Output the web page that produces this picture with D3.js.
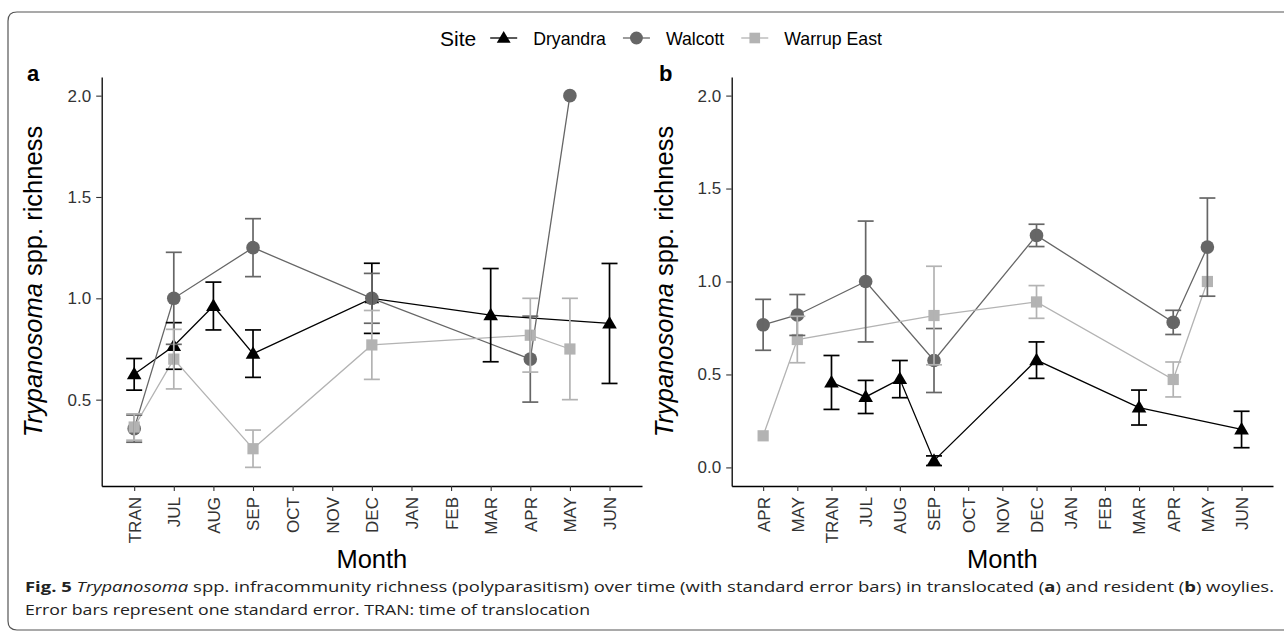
<!DOCTYPE html>
<html>
<head>
<meta charset="utf-8">
<script src="https://cdn.jsdelivr.net/npm/d3@7"></script>
<style>
  body { margin: 0; background: #fff; }
  svg { display: block; font-family: "Liberation Sans", Arial, Helvetica, sans-serif; }
</style>
</head>
<body>
<svg id="chart" width="1284" height="634"></svg>
<script>
// x categories of the two panels
const monthsA = ["TRAN", "JUL", "AUG", "SEP", "OCT", "NOV", "DEC", "JAN", "FEB", "MAR", "APR", "MAY", "JUN"];
const monthsB = ["APR", "MAY", "TRAN", "JUL", "AUG", "SEP", "OCT", "NOV", "DEC", "JAN", "FEB", "MAR", "APR", "MAY", "JUN"];

const sites = ["Dryandra", "Walcott", "Warrup East"];

// panel a (translocated): positions are indexes into monthsA
const aDryandraIdx = [0, 1, 2, 3, 6, 9, 12];
const aDryandraMean = [0.625, 0.765, 0.962, 0.727, 1.0, 0.917, 0.876];
const aDryandraSE = [0.078, 0.115, 0.118, 0.117, 0.173, 0.23, 0.296];

const aWalcottIdx = [0, 1, 3, 6, 10, 11];
const aWalcottMean = [0.357, 1.0, 1.25, 1.0, 0.7, 2.0];
const aWalcottSE = [0.067, 0.227, 0.143, 0.123, 0.212, null];

const aWarrupIdx = [0, 1, 3, 6, 10, 11];
const aWarrupMean = [0.365, 0.7, 0.258, 0.77, 0.818, 0.75];
const aWarrupSE = [0.065, 0.147, 0.092, 0.17, 0.182, 0.25];

// panel b (resident): positions are indexes into monthsB
const bDryandraIdx = [2, 3, 4, 5, 8, 11, 14];
const bDryandraMean = [0.457, 0.379, 0.475, 0.036, 0.577, 0.322, 0.204];
const bDryandraSE = [0.145, 0.089, 0.1, 0.026, 0.098, 0.094, 0.098];

const bWalcottIdx = [0, 1, 3, 5, 8, 12, 13];
const bWalcottMean = [0.767, 0.82, 1.0, 0.575, 1.248, 0.78, 1.185];
const bWalcottSE = [0.137, 0.11, 0.325, 0.172, 0.06, 0.065, 0.264];

const bWarrupIdx = [0, 1, 5, 8, 12, 13];
const bWarrupMean = [0.17, 0.688, 0.817, 0.89, 0.473, 1.0];
const bWarrupSE = [null, 0.125, 0.265, 0.088, 0.094, null];

const yTicksA = [0.5, 1.0, 1.5, 2.0];
const yTicksB = [0.0, 0.5, 1.0, 1.5, 2.0];

const colors = { "Dryandra": "#000000", "Walcott": "#666666", "Warrup East": "#b3b3b3" };

function series(site, idx, mean, se) {
  return { site: site, points: idx.map((d, i) => ({ i: d, m: mean[i], se: se[i] })) };
}

const panels = [
  {
    tag: "a", months: monthsA, left: 101.7, right: 642, pad: 0.82,
    yDomain: [0.074, 2.092], yTicks: yTicksA, tagX: 27, labelX: 42,
    series: [
      series("Dryandra", aDryandraIdx, aDryandraMean, aDryandraSE),
      series("Walcott", aWalcottIdx, aWalcottMean, aWalcottSE),
      series("Warrup East", aWarrupIdx, aWarrupMean, aWarrupSE)
    ]
  },
  {
    tag: "b", months: monthsB, left: 731.7, right: 1273, pad: 0.92,
    yDomain: [-0.1, 2.1], yTicks: yTicksB, tagX: 659, labelX: 673,
    series: [
      series("Dryandra", bDryandraIdx, bDryandraMean, bDryandraSE),
      series("Walcott", bWalcottIdx, bWalcottMean, bWalcottSE),
      series("Warrup East", bWarrupIdx, bWarrupMean, bWarrupSE)
    ]
  }
];

const plotTop = 77, plotBottom = 486;
const svg = d3.select("#chart");

// frame round the figure, open on the right
svg.append("path")
  .attr("d", "M1290,12 H17 Q8,12 8,21 V621 Q8,630 17,630 H1290")
  .attr("fill", "none")
  .attr("stroke", "#555")
  .attr("stroke-width", 1.2);

function drawMarker(g, site, cx, cy, scale) {
  const s = scale || 1;
  const c = colors[site];
  if (site === "Dryandra") {
    g.append("path")
      .attr("d", `M${cx},${cy - 7.5 * s} L${cx + 7.3 * s},${cy + 5 * s} L${cx - 7.3 * s},${cy + 5 * s} Z`)
      .attr("fill", c);
  } else if (site === "Walcott") {
    g.append("circle").attr("cx", cx).attr("cy", cy).attr("r", 6.8 * s).attr("fill", c);
  } else {
    g.append("rect")
      .attr("x", cx - 5.6 * s).attr("y", cy - 5.6 * s)
      .attr("width", 11.2 * s).attr("height", 11.2 * s)
      .attr("fill", c);
  }
}

panels.forEach(p => {
  const x = d3.scalePoint()
    .domain(d3.range(p.months.length))
    .range([p.left, p.right])
    .padding(p.pad);
  const y = d3.scaleLinear().domain(p.yDomain).range([plotBottom, plotTop]);

  const g = svg.append("g");

  // x axis
  const xa = g.append("g")
    .attr("transform", `translate(0,${plotBottom})`)
    .call(d3.axisBottom(x).tickFormat(i => p.months[i]).tickSize(5).tickSizeOuter(0));
  xa.selectAll("text")
    .attr("transform", "rotate(-90)")
    .attr("text-anchor", "end")
    .attr("x", -11)
    .attr("y", 0)
    .attr("dy", "0.35em")
    .attr("font-size", 17)
    .attr("fill", "#333");

  // y axis
  const ya = g.append("g")
    .attr("transform", `translate(${p.left},0)`)
    .call(d3.axisLeft(y).tickValues(p.yTicks).tickFormat(d3.format(".1f")).tickSize(5.5).tickPadding(5).tickSizeOuter(0));
  ya.selectAll("text").attr("font-size", 17).attr("fill", "#333");

  [xa, ya].forEach(a => {
    a.select(".domain").attr("stroke", "#000").attr("stroke-width", 1.3);
    a.selectAll(".tick line").attr("stroke", "#333").attr("stroke-width", 1.1);
  });

  // connecting lines
  const line = d3.line().x(d => x(d.i)).y(d => y(d.m));
  p.series.forEach(s => {
    g.append("path")
      .datum(s.points)
      .attr("d", line)
      .attr("fill", "none")
      .attr("stroke", colors[s.site])
      .attr("stroke-width", 1.3);
  });

  // points
  p.series.forEach(s => {
    s.points.forEach(d => drawMarker(g, s.site, x(d.i), y(d.m)));
  });

  // error bars
  p.series.forEach(s => {
    const eb = g.append("g").attr("stroke", colors[s.site]).attr("stroke-width", 1.7);
    s.points.filter(d => d.se != null).forEach(d => {
      const cx = x(d.i), y0 = y(d.m - d.se), y1 = y(d.m + d.se);
      eb.append("line").attr("x1", cx).attr("x2", cx).attr("y1", y0).attr("y2", y1);
      eb.append("line").attr("x1", cx - 8).attr("x2", cx + 8).attr("y1", y0).attr("y2", y0);
      eb.append("line").attr("x1", cx - 8).attr("x2", cx + 8).attr("y1", y1).attr("y2", y1);
    });
  });

  // axis titles
  const yl = g.append("text")
    .attr("transform", `translate(${p.labelX},${(plotTop + plotBottom) / 2}) rotate(-90)`)
    .attr("text-anchor", "middle")
    .attr("font-size", 25.5)
    .attr("fill", "#000");
  yl.append("tspan").attr("font-style", "italic").text("Trypanosoma");
  yl.append("tspan").text(" spp. richness");

  g.append("text")
    .attr("x", (p.left + p.right) / 2)
    .attr("y", 568)
    .attr("text-anchor", "middle")
    .attr("font-size", 25.5)
    .text("Month");

  g.append("text")
    .attr("x", p.tagX)
    .attr("y", 81)
    .attr("font-size", 22)
    .attr("font-weight", "bold")
    .text(p.tag);
});

// legend
const lg = svg.append("g");
let lx = 440;
const ly = 38;
const title = lg.append("text").attr("x", lx).attr("y", ly + 7.5).attr("font-size", 21).text("Site");
lx += title.node().getComputedTextLength() + 14;
sites.forEach(site => {
  lg.append("line")
    .attr("x1", lx).attr("x2", lx + 27).attr("y1", ly).attr("y2", ly)
    .attr("stroke", colors[site]).attr("stroke-width", 1.3);
  drawMarker(lg, site, lx + 13.5, ly, 0.95);
  lx += 27 + 16;
  const t = lg.append("text").attr("x", lx).attr("y", ly + 6.5).attr("font-size", 17.7).text(site);
  lx += t.node().getComputedTextLength() + 17;
});

// caption
const capFont = '"Liberation Sans Narrow", "Open Sans", sans-serif';
const c1 = svg.append("text")
  .attr("x", 25).attr("y", 592)
  .attr("font-family", capFont)
  .attr("font-size", 14.8)
  .attr("fill", "#222")
  .attr("textLength", 1249)
  .attr("lengthAdjust", "spacingAndGlyphs");
c1.append("tspan").attr("font-weight", "bold").text("Fig. 5");
c1.append("tspan").text("  ");
c1.append("tspan").attr("font-style", "italic").text("Trypanosoma");
c1.append("tspan").text(" spp. infracommunity richness (polyparasitism) over time (with standard error bars) in translocated (");
c1.append("tspan").attr("font-weight", "bold").text("a");
c1.append("tspan").text(") and resident (");
c1.append("tspan").attr("font-weight", "bold").text("b");
c1.append("tspan").text(") woylies.");

svg.append("text")
  .attr("x", 25).attr("y", 615)
  .attr("font-family", capFont)
  .attr("font-size", 14.8)
  .attr("fill", "#222")
  .attr("textLength", 565)
  .attr("lengthAdjust", "spacingAndGlyphs")
  .text("Error bars represent one standard error. TRAN: time of translocation");
</script>
</body>
</html>
